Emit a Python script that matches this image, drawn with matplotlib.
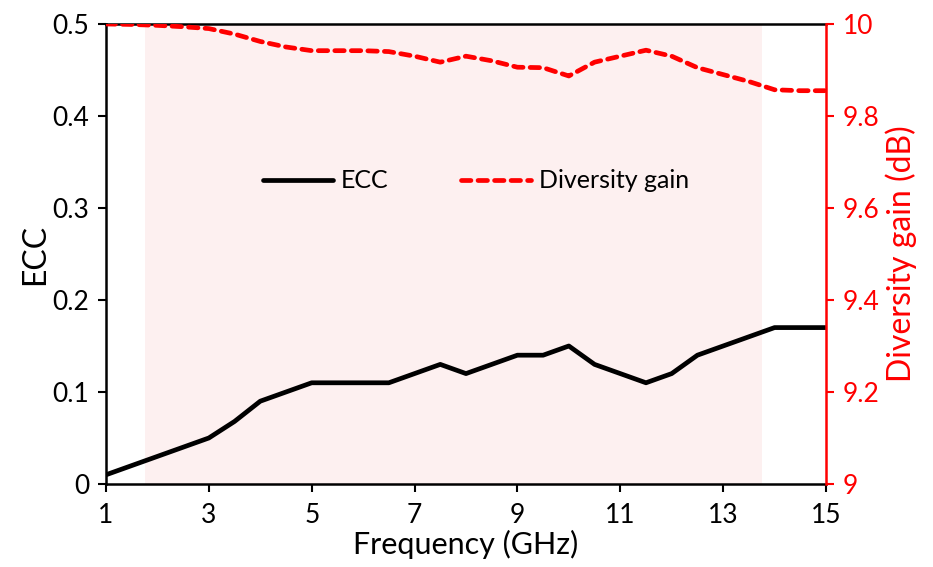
import matplotlib.pyplot as plt

plt.rcParams['font.family'] = ['Lato', 'DejaVu Sans']

# Data
freq = [1, 1.5, 2, 2.5, 3, 3.5, 4, 4.5, 5, 5.5, 6, 6.5, 7, 7.5, 8, 8.5, 9, 9.5,
        10, 10.5, 11, 11.5, 12, 12.5, 13, 13.5, 14, 14.5, 15]
ecc = [0.010, 0.020, 0.030, 0.040, 0.050, 0.068, 0.090, 0.100, 0.110, 0.110,
       0.110, 0.110, 0.120, 0.130, 0.120, 0.130, 0.140, 0.140, 0.150, 0.130,
       0.120, 0.110, 0.120, 0.140, 0.150, 0.160, 0.170, 0.170, 0.170]
div_gain = [10.0, 9.999, 9.997, 9.994, 9.99, 9.978, 9.962, 9.950, 9.942, 9.942,
            9.942, 9.940, 9.930, 9.917, 9.930, 9.920, 9.906, 9.905, 9.887, 9.917,
            9.930, 9.943, 9.930, 9.905, 9.890, 9.875, 9.857, 9.855, 9.855]
band = (1.75, 13.75)
x_ticks = [1, 3, 5, 7, 9, 11, 13, 15]

fig = plt.figure(figsize=(9.33, 5.67), dpi=100)
ax = fig.add_axes([0.1136, 0.1464, 0.7717, 0.8113])
ax2 = ax.twinx()

# Shaded operating band
ax.axvspan(band[0], band[1], color='#fdf0f0', zorder=0, lw=0)

l1, = ax.plot(freq, ecc, color='black', lw=3.4, solid_capstyle='round',
              solid_joinstyle='round', label='ECC')
l2, = ax2.plot(freq, div_gain, color='red', lw=3.4, ls=(0, (2.0, 1.5)),
               dash_capstyle='round', label='Diversity gain')

ax.set_xlim(1, 15)
ax.set_ylim(0, 0.5)
ax2.set_ylim(9, 10)
ax.set_xticks(x_ticks)
ax.set_yticks([0, 0.1, 0.2, 0.3, 0.4, 0.5])
ax.set_yticklabels(['0', '0.1', '0.2', '0.3', '0.4', '0.5'])
ax2.set_yticks([9, 9.2, 9.4, 9.6, 9.8, 10])
ax2.set_yticklabels(['9', '9.2', '9.4', '9.6', '9.8', '10'])

ax.tick_params(axis='both', direction='out', length=6, width=1.5,
               labelsize=19, pad=6)
ax.tick_params(axis='x', pad=8)
ax2.tick_params(axis='y', direction='out', length=6, width=1.5,
                labelsize=19, colors='red', pad=6)

for s in ['left', 'bottom', 'top']:
    ax.spines[s].set_linewidth(1.8)
ax2.spines['right'].set_color('red')
ax2.spines['right'].set_linewidth(1.8)
ax2.spines['left'].set_visible(False)
ax2.spines['top'].set_visible(False)
ax2.spines['bottom'].set_visible(False)
ax.spines['right'].set_visible(False)

ax.set_xlabel('Frequency (GHz)', fontsize=22)
ax.xaxis.set_label_coords(0.5, -0.1)
ax.set_ylabel('ECC', fontsize=23, labelpad=2)
ax2.set_ylabel('Diversity gain (dB)', fontsize=23, color='red', labelpad=4)

ax.legend([l1, l2], ['ECC', 'Diversity gain'], ncol=2, frameon=False,
          fontsize=18, loc='center', bbox_to_anchor=(0.514, 0.659),
          handlelength=2.8, columnspacing=2.9, handletextpad=0.3)

ax2.set_zorder(ax.get_zorder() + 1)
ax.patch.set_visible(False)

fig.savefig('out.png', dpi=100)
